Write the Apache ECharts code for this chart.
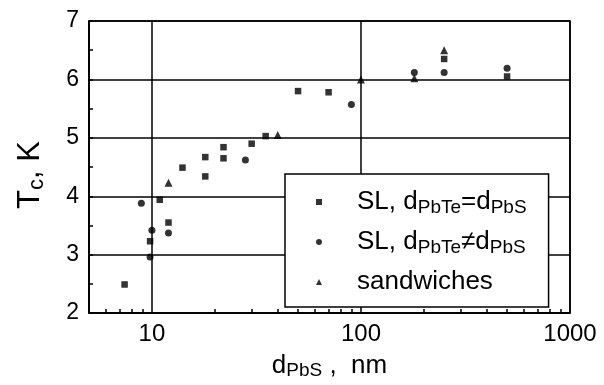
<!DOCTYPE html>
<html>
<head>
<meta charset="UTF-8">
<title>Tc vs dPbS</title>
<style>
  html, body { margin: 0; padding: 0; background: #fff; }
  #chart { width: 604px; height: 385px; }
</style>
</head>
<body>
<div id="chart"></div>
<script src="https://cdn.jsdelivr.net/npm/echarts@6/dist/echarts.min.js"></script>
<script>
// SL, dPbTe = dPbS (squares)
var sqX = [7.4, 9.8, 10.9, 12, 14, 18, 18, 22, 22, 30, 35, 50, 70, 250, 500];
var sqY = [2.49, 3.23, 3.94, 3.55, 4.49, 4.67, 4.34, 4.84, 4.65, 4.9, 5.03, 5.8, 5.78, 6.35, 6.05];
// SL, dPbTe != dPbS (circles)
var ciX = [8.9, 9.8, 10, 12, 28, 90, 180, 250, 500];
var ciY = [3.88, 2.96, 3.42, 3.37, 4.62, 5.57, 6.12, 6.12, 6.19];
// sandwiches (triangles)
var trX = [12, 40, 100, 180, 250];
var trY = [4.23, 5.05, 6.0, 6.02, 6.5];

var seriesNames = ['SL, d{sub|PbTe}=d{sub|PbS}', 'SL, d{sub|PbTe}\u2260d{sub|PbS}', 'sandwiches'];
var yTicks = [2, 3, 4, 5, 6, 7];
var xMinorTicks = [6, 7, 8, 9, 20, 30, 40, 50, 60, 70, 80, 90, 200, 300, 400, 500, 600, 700, 800, 900];

function pairs(xs, ys) {
    var out = [];
    for (var i = 0; i < xs.length; i++) out.push([xs[i], ys[i]]);
    return out;
}

var ink = '#000';
var font = 'Liberation Sans, Arial, sans-serif';

var chart = echarts.init(document.getElementById('chart'));
chart.setOption({
    animation: false,
    backgroundColor: '#fff',
    textStyle: { fontFamily: font, color: ink },
    grid: {
        left: 89, right: 34, top: 21, bottom: 65,
        show: true, borderColor: ink, borderWidth: 1.5, backgroundColor: 'transparent'
    },
    legend: {
        orient: 'vertical',
        left: 285, top: 174,
        data: seriesNames,
        itemWidth: 6, itemHeight: 6, itemGap: 10,
        padding: [13, 22, 10, 31],
        borderColor: ink, borderWidth: 1.5, borderRadius: 0,
        backgroundColor: '#fff',
        inactiveColor: ink,
        textStyle: {
            fontFamily: font, fontSize: 26, lineHeight: 30, color: ink,
            padding: [0, 0, 0, 30],
            rich: {
                sub: { fontFamily: font, fontSize: 19, lineHeight: 19, padding: [11, 0, 0, 0], color: ink }
            }
        }
    },
    xAxis: [{
        type: 'log',
        logBase: 10,
        min: 5, max: 1000,
        name: 'd{sub|PbS} ,  nm',
        nameLocation: 'middle',
        nameGap: 33,
        nameTextStyle: {
            fontFamily: font, fontSize: 26, lineHeight: 28, color: ink,
            rich: { sub: { fontFamily: font, fontSize: 19, lineHeight: 19, padding: [10, 0, 0, 0], color: ink } }
        },
        axisLine: { lineStyle: { color: ink, width: 1.5 } },
        axisTick: { show: false },
        axisLabel: {
            showMinLabel: false, fontSize: 24, color: ink, margin: 9, fontFamily: font,
            formatter: function (v) { return String(Math.round(v)); }
        },
        splitLine: { show: true, lineStyle: { color: ink, width: 1.5 } }
    }, {
        type: 'value',
        min: Math.log10(5), max: 3,
        position: 'bottom',
        axisLine: { show: false },
        axisLabel: { show: false },
        splitLine: { show: false },
        axisTick: {
            show: true, inside: true, length: 4,
            customValues: xMinorTicks.map(function (v) { return Math.log10(v); }),
            lineStyle: { color: ink, width: 1.5 }
        }
    }],
    yAxis: {
        type: 'value',
        min: 2, max: 7, interval: 1,
        name: 'T{sub|c}, K',
        nameLocation: 'middle',
        nameGap: 42,
        nameTextStyle: {
            fontFamily: font, fontSize: 31, lineHeight: 34, color: ink, padding: [0, 16, 0, 0],
            rich: { sub: { fontFamily: font, fontSize: 22, lineHeight: 22, padding: [13, 0, 0, 0], color: ink } }
        },
        axisLine: { show: true, lineStyle: { color: ink, width: 1.5 } },
        axisTick: { show: true, inside: true, length: 4, lineStyle: { color: ink, width: 1.5 } },
        minorTick: { show: true, splitNumber: 2, length: 4, lineStyle: { color: ink, width: 1.5 } },
        axisLabel: {
            fontSize: 23, color: ink, margin: 10, fontFamily: font,
            customValues: yTicks
        },
        splitLine: { show: true, lineStyle: { color: ink, width: 1.5 } }
    },
    series: [{
        name: seriesNames[0],
        type: 'scatter',
        symbol: 'rect',
        symbolSize: 6.5,
        itemStyle: { color: ink },
        data: pairs(sqX, sqY)
    }, {
        name: seriesNames[1],
        type: 'scatter',
        symbol: 'circle',
        symbolSize: 7,
        itemStyle: { color: ink },
        data: pairs(ciX, ciY)
    }, {
        name: seriesNames[2],
        type: 'scatter',
        symbol: 'triangle',
        symbolSize: 8,
        itemStyle: { color: ink },
        data: pairs(trX, trY)
    }]
});
</script>
</body>
</html>
